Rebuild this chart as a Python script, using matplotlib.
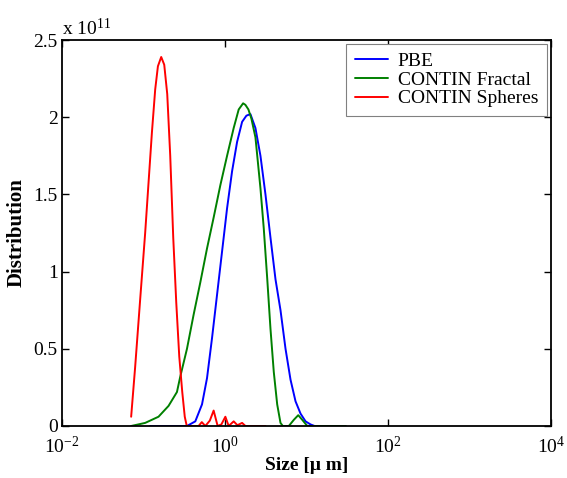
import matplotlib
matplotlib.use("Agg")
import matplotlib.pyplot as plt
from matplotlib.ticker import FixedLocator, NullLocator, FuncFormatter

plt.rcParams['font.family'] = ['Liberation Serif', 'DejaVu Serif']
plt.rcParams['mathtext.fontset'] = 'custom'
plt.rcParams['mathtext.rm'] = 'Liberation Serif'
plt.rcParams['mathtext.it'] = 'Liberation Serif:italic'
plt.rcParams['mathtext.bf'] = 'Liberation Serif:bold'
plt.rcParams['axes.unicode_minus'] = False

# Data (size in micrometres, distribution in units of 1e11)
pbe_size = [0.1209, 0.3418, 0.4325, 0.5227, 0.6022, 0.6940, 0.7995, 0.9211, 1.0612,
            1.2226, 1.4087, 1.6230, 1.8334, 2.0529, 2.3648, 2.7253, 3.1397, 3.6176,
            4.1686, 4.8017, 5.5335, 6.3738, 7.3405, 8.4606, 9.7477, 11.23, 12.58, 30.26]
pbe_dist = [0.0, 0.0, 0.03, 0.14, 0.31, 0.57, 0.85, 1.13, 1.41,
            1.65, 1.84, 1.97, 2.01, 2.02, 1.93, 1.75, 1.50, 1.22,
            0.95, 0.75, 0.50, 0.30, 0.16, 0.08, 0.03, 0.01, 0.0, 0.0]

fractal_size = [0.0706, 0.1049, 0.1529, 0.2030, 0.2575, 0.2828, 0.3418, 0.4121, 0.4982,
                0.6022, 0.7261, 0.8779, 1.0612, 1.2794, 1.4740, 1.6696, 1.7817, 1.9406,
                2.1115, 2.3648, 2.7253, 2.9923, 3.2950, 3.6176, 3.9719, 4.3731, 4.8017,
                5.1263, 6.0756, 6.9984, 7.9267, 8.8797, 10.228, 30.26]
fractal_dist = [0.0, 0.02, 0.06, 0.13, 0.22, 0.32, 0.50, 0.72, 0.93,
                1.15, 1.35, 1.56, 1.75, 1.93, 2.05, 2.09, 2.08, 2.05,
                1.99, 1.87, 1.54, 1.28, 0.96, 0.63, 0.35, 0.14, 0.02,
                0.0, 0.0, 0.04, 0.07, 0.04, 0.0, 0.0]

spheres_size = [0.0706, 0.0790, 0.0911, 0.1049, 0.1152, 0.1269, 0.1393, 0.1504, 0.1651,
                0.1798, 0.1957, 0.2130, 0.2319, 0.2525, 0.2749, 0.2992, 0.3211, 0.3399,
                0.4748, 0.5198, 0.5740, 0.6521, 0.7261, 0.8131, 0.9030, 1.0114, 1.1105,
                1.2794, 1.4207, 1.6230, 1.7817, 3.140]
spheres_dist = [0.06, 0.38, 0.82, 1.25, 1.57, 1.90, 2.18, 2.33, 2.39,
                2.34, 2.15, 1.75, 1.22, 0.80, 0.45, 0.22, 0.06, 0.0,
                0.0, 0.025, 0.0, 0.035, 0.10, 0.0, 0.01, 0.06, 0.0,
                0.03, 0.005, 0.02, 0.0, 0.0]

series_names = ['PBE', 'CONTIN Fractal', 'CONTIN Spheres']
x_ticks = [1e-2, 1e0, 1e2, 1e4]
y_ticks = [0, 0.5, 1, 1.5, 2, 2.5]

fig = plt.figure(figsize=(5.67, 4.78), dpi=100)
ax = fig.add_axes([0.1093, 0.1088, 0.8624, 0.8075])

kw = dict(lw=1.4, solid_joinstyle='round', solid_capstyle='round')
ax.plot(pbe_size, pbe_dist, color=(0, 0, 1), label=series_names[0], **kw)
ax.plot(fractal_size, fractal_dist, color=(0, 0.5, 0), label=series_names[1], **kw)
ax.plot(spheres_size, spheres_dist, color=(1, 0, 0), label=series_names[2], **kw)

ax.set_xscale('log')
ax.set_xlim(1e-2, 1e4)
ax.set_ylim(0, 2.5)
ax.xaxis.set_major_locator(FixedLocator(x_ticks))
ax.xaxis.set_minor_locator(NullLocator())
ax.yaxis.set_major_locator(FixedLocator(y_ticks))
ax.yaxis.set_major_formatter(FuncFormatter(lambda v, p: '%g' % v))

ax.tick_params(direction='in', top=True, right=True, length=5, width=1,
               labelsize=14, colors='black')
ax.tick_params(axis='x', pad=7)
ax.tick_params(axis='y', pad=3)
for s in ax.spines.values():
    s.set_linewidth(1.3)

ax.set_xlabel('Size [μ m]', fontsize=14, fontweight='bold', labelpad=0)
ax.set_ylabel('Distribution', fontsize=15, fontweight='bold', labelpad=5)

ax.text(0.0, 1.013, r'x 10$^{11}$', transform=ax.transAxes, fontsize=14,
        ha='left', va='baseline')

leg = ax.legend(loc='upper right', fontsize=14, frameon=True, fancybox=False,
                edgecolor='#808080', framealpha=1, borderpad=0.45,
                handlelength=1.7, handletextpad=0.5, labelspacing=0.05,
                borderaxespad=0.2)
leg.get_frame().set_linewidth(0.8)

fig.savefig('out.png', dpi=100)
